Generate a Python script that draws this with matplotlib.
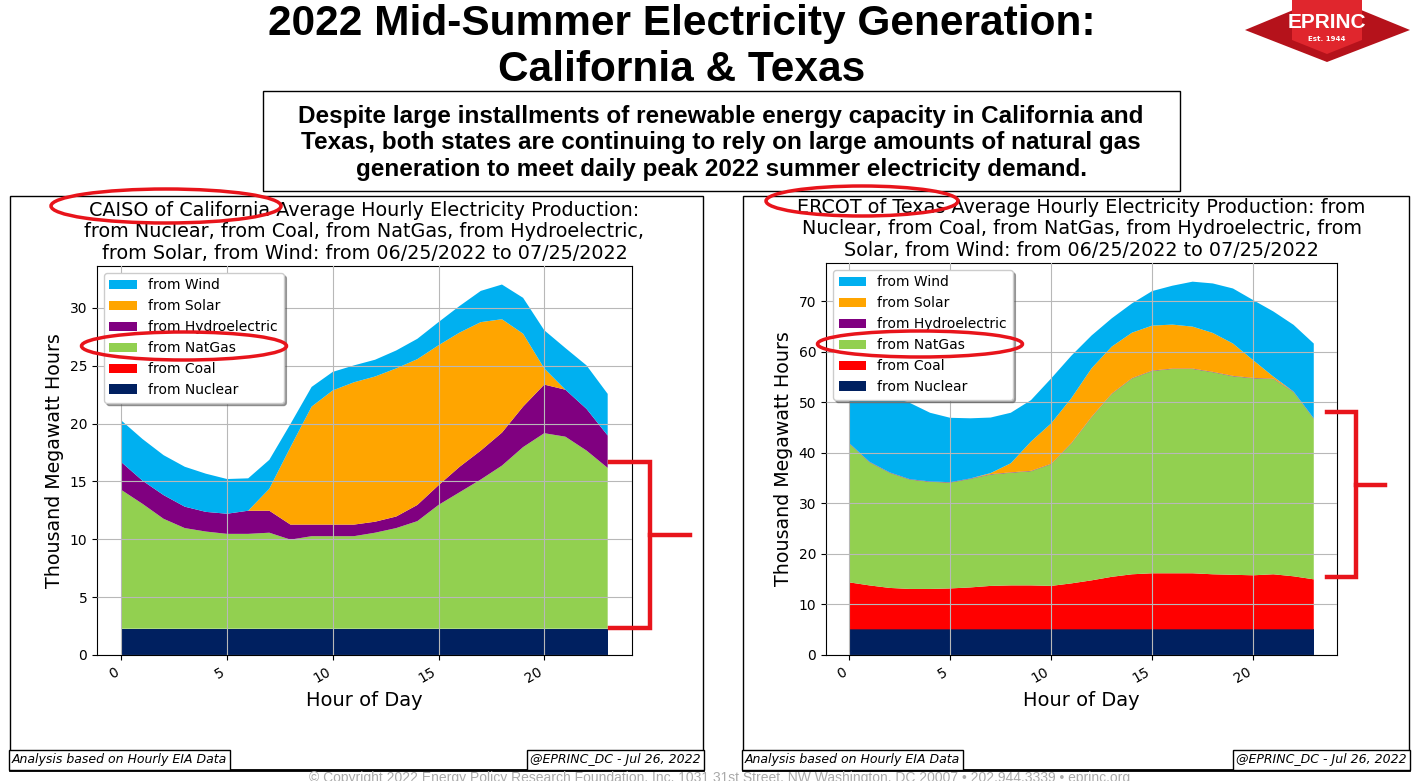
import matplotlib
matplotlib.use("Agg")
import matplotlib.pyplot as plt
from matplotlib.patches import Ellipse, Rectangle, Polygon

W, H = 1422, 781

hours = list(range(24))
sources = ["from Nuclear", "from Coal", "from NatGas", "from Hydroelectric", "from Solar", "from Wind"]
colors = ["#002060", "#FF0000", "#92D050", "#800080", "#FFA500", "#00B0F0"]

# CAISO (thousand MWh)
ca_nuclear = [2.27] * 24
ca_coal = [0.0] * 24
ca_natgas = [12.0, 10.8, 9.5, 8.7, 8.4, 8.2, 8.2, 8.3, 7.7, 8.0, 8.0, 8.0,
             8.3, 8.7, 9.3, 10.7, 11.8, 12.9, 14.1, 15.7, 16.9, 16.6, 15.4, 13.9]
ca_hydro = [2.4, 2.0, 2.05, 1.85, 1.7, 1.74, 2.0, 1.9, 1.3, 1.0, 1.0, 1.0,
            0.95, 1.0, 1.4, 1.7, 2.2, 2.5, 2.85, 3.5, 4.2, 4.06, 3.6, 2.8]
ca_solar = [0, 0, 0, 0, 0, 0, 0, 1.9, 6.7, 10.2, 11.6, 12.3,
            12.55, 12.8, 12.6, 12.1, 11.6, 11.1, 9.8, 6.3, 1.4, 0, 0, 0]
ca_wind = [3.6, 3.6, 3.45, 3.45, 3.3, 3.0, 2.8, 2.5, 2.0, 1.7, 1.6, 1.46,
           1.45, 1.55, 1.76, 2.0, 2.3, 2.7, 3.0, 3.1, 3.3, 3.6, 3.76, 3.6]

# ERCOT (thousand MWh)
tx_nuclear = [5.08] * 24
tx_coal = [9.3, 8.7, 8.2, 8.0, 8.0, 8.1, 8.3, 8.6, 8.7, 8.7, 8.6, 9.1,
           9.7, 10.4, 10.9, 11.1, 11.1, 11.1, 10.9, 10.8, 10.7, 10.9, 10.5, 9.9]
tx_natgas = [27.5, 24.4, 22.8, 21.65, 21.2, 20.95, 21.5, 22.05, 22.3, 22.6, 24.1, 27.7,
             32.3, 36.2, 38.75, 40.05, 40.45, 40.45, 40.0, 39.3, 39.0, 38.65, 36.5, 31.8]
tx_hydro = [0.08] * 24
tx_solar = [0, 0, 0, 0, 0, 0, 0, 0.2, 1.8, 5.8, 8.0, 8.9,
            9.6, 9.3, 9.0, 8.9, 8.7, 8.3, 7.7, 6.4, 3.5, 0.4, 0, 0]
tx_wind = [12.1, 14.4, 15.1, 15.1, 13.6, 12.75, 11.9, 11.0, 10.0, 8.2, 8.9, 8.4,
           6.5, 5.6, 5.8, 6.84, 7.7, 8.9, 9.8, 10.9, 11.9, 12.9, 13.2, 14.8]

ca_title = ("CAISO of California Average Hourly Electricity Production:\n"
            "from Nuclear, from Coal, from NatGas, from Hydroelectric,\n"
            "from Solar, from Wind: from 06/25/2022 to 07/25/2022")
tx_title = ("ERCOT of Texas Average Hourly Electricity Production: from\n"
            "Nuclear, from Coal, from NatGas, from Hydroelectric, from\n"
            "Solar, from Wind: from 06/25/2022 to 07/25/2022")


def px_rect(x0, y0, x1, y1):
    return [x0 / W, 1 - y1 / H, (x1 - x0) / W, (y1 - y0) / H]


fig = plt.figure(figsize=(W / 100, H / 100), dpi=100)


def draw_panel(rect, series, title):
    ax = fig.add_axes(rect)
    polys = ax.stackplot(hours, *series, colors=colors, labels=sources)
    ax.set_axisbelow(False)
    ax.grid(True, color="#b8b8b8", lw=0.8)
    ax.set_title(title, fontsize=13.8, pad=5, linespacing=1.18)
    ax.set_xlabel("Hour of Day", fontsize=14)
    ax.set_ylabel("Thousand Megawatt Hours", fontsize=13.7)
    ax.set_xticks([0, 5, 10, 15, 20])
    ax.tick_params(labelsize=10)
    for lab in ax.get_xticklabels():
        lab.set_rotation(30)
        lab.set_ha("right")
    ax.legend(polys[::-1], sources[::-1], loc="upper left", fontsize=10,
              shadow=True, framealpha=1)
    return ax


draw_panel(px_rect(97, 266, 632, 655),
           [ca_nuclear, ca_coal, ca_natgas, ca_hydro, ca_solar, ca_wind], ca_title)
draw_panel(px_rect(826, 263, 1337, 655),
           [tx_nuclear, tx_coal, tx_natgas, tx_hydro, tx_solar, tx_wind], tx_title)

# overlay in pixel coordinates for boxes, annotations and logo
ov = fig.add_axes([0, 0, 1, 1], facecolor="none")
ov.set_xlim(0, W)
ov.set_ylim(H, 0)
ov.axis("off")

ov.text(682, 47, "2022 Mid-Summer Electricity Generation:\nCalifornia & Texas",
        ha="center", va="center", fontsize=30.5, fontweight="bold",
        family="Liberation Sans", linespacing=1.22)

ov.add_patch(Rectangle((263, 91), 917, 100, fill=False, ec="black", lw=1))
ov.text(721, 143,
        "Despite large installments of renewable energy capacity in California and\n"
        "Texas, both states are continuing to rely on large amounts of natural gas\n"
        "generation to meet daily peak 2022 summer electricity demand.",
        ha="center", va="center", fontsize=17.5, fontweight="bold",
        family="Liberation Sans", linespacing=1.2)

# panel frames
for x0, x1 in [(10, 703), (743, 1409)]:
    ov.add_patch(Rectangle((x0, 196), x1 - x0, 574, fill=False, ec="black", lw=1))
    ov.plot([x0, x1], [770, 770], color="black", lw=2)
    ov.text(x0 + 2, 760, "Analysis based on Hourly EIA Data", ha="left", va="center",
            fontsize=9, style="italic",
            bbox=dict(boxstyle="square,pad=0.25", fc="white", ec="black", lw=1))
    ov.text(x1 - 2, 760, "@EPRINC_DC - Jul 26, 2022", ha="right", va="center",
            fontsize=9, style="italic",
            bbox=dict(boxstyle="square,pad=0.25", fc="white", ec="black", lw=1))

ov.text(720, 778, "\u00a9 Copyright 2022 Energy Policy Research Foundation, Inc. 1031 31st Street, NW "
        "Washington, DC 20007 \u2022 202.944.3339 \u2022 eprinc.org",
        ha="center", va="center", fontsize=10, color="#aaaaaa", family="Liberation Sans")

# red ellipses
red = "#E8141B"
for cx, cy, w, h in [(166, 206, 230, 34), (184, 346, 205, 28),
                     (862, 201, 192, 30), (920, 344, 205, 26)]:
    ov.add_patch(Ellipse((cx, cy), w, h, fill=False, ec=red, lw=2.5))

# red brackets
for xv, xl, xm, y0, y1, ym in [(650, 610, 690, 462, 628, 535),
                               (1356, 1327, 1385, 412, 577, 485)]:
    ov.plot([xl, xv, xv, xl], [y0, y0, y1, y1], color=red, lw=3.2, solid_joinstyle="miter")
    ov.plot([xv, xm], [ym, ym], color=red, lw=3.2)

# logo
ov.add_patch(Polygon([(1245, 30), (1327, -4), (1410, 30), (1327, 62)], closed=True,
                     fc="#B5121B", ec="none"))
ov.add_patch(Polygon([(1292, 0), (1362, 0), (1362, 40), (1327, 54), (1292, 40)], closed=True,
                     fc="#E0262D", ec="none"))
ov.text(1327, 22, "EPRINC", ha="center", va="center", color="white", fontsize=15,
        fontweight="bold", family="Liberation Sans")
ov.text(1327, 39, "Est. 1944", ha="center", va="center", color="white", fontsize=5,
        fontweight="bold")

fig.savefig("out.png", dpi=100)
